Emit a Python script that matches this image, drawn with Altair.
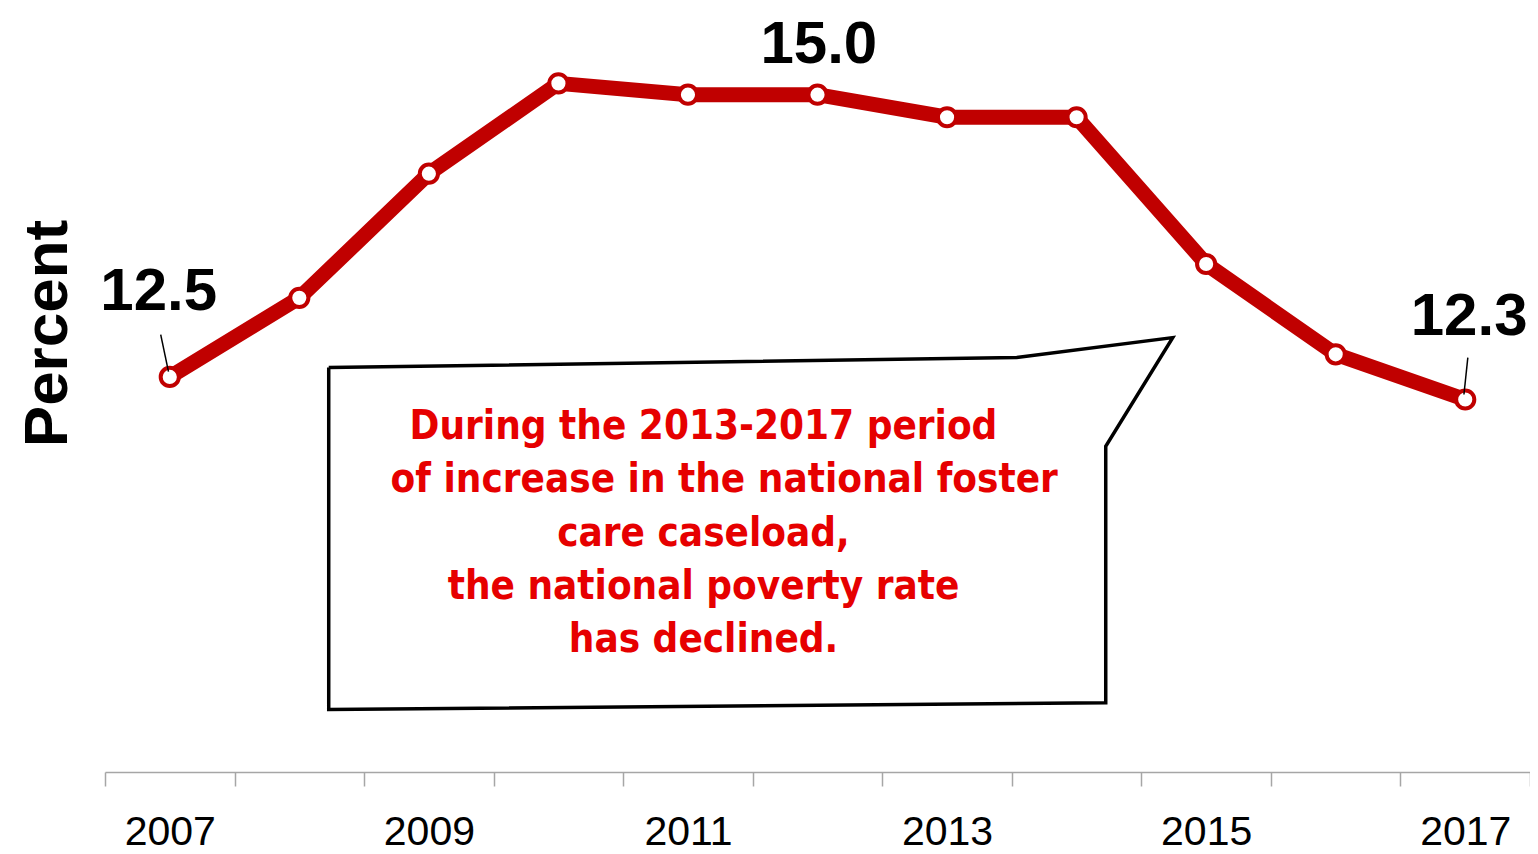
import altair as alt
import pandas as pd

# ---- data ----
years = [2007, 2008, 2009, 2010, 2011, 2012, 2013, 2014, 2015, 2016, 2017]
rates = [12.5, 13.2, 14.3, 15.1, 15.0, 15.0, 14.8, 14.8, 13.5, 12.7, 12.3]

label_text = ["12.5", "15.0", "12.3"]
label_year = [2006.915, 2012.01, 2017.03]
label_val = [13.093, 15.28, 12.871]

leader_id = [0, 0, 1, 1]
leader_year = [2006.93, 2006.99, 2017.02, 2016.99]
leader_val = [12.874, 12.547, 12.671, 12.344]

box_year = [2008.227, 2013.538, 2014.742, 2014.225, 2014.225, 2008.227, 2008.227]
box_val = [12.583, 12.671, 12.848, 11.885, 9.614, 9.553, 12.583]

note_lines = [
    "During the 2013-2017 period",
    "of increase in the national foster",
    "care caseload,",
    "the national poverty rate",
    "has declined.",
]
note_year = [2011.12, 2011.28, 2011.12, 2011.12, 2011.12]
note_val = [12.053, 11.585, 11.108, 10.639, 10.171]

tick_values = [y - 0.5 for y in years] + [years[-1] + 0.5]

NUM_FONT = "Liberation Sans"
NOTE_FONT = "DejaVu Sans Condensed, sans-serif"

df = pd.DataFrame({"year": years, "rate": rates})
labels = pd.DataFrame({"t": label_text, "year": label_year, "rate": label_val})
leaders = pd.DataFrame({"id": leader_id, "year": leader_year, "rate": leader_val})
box = pd.DataFrame({"o": list(range(len(box_year))), "year": box_year, "rate": box_val})
notes = pd.DataFrame({"t": note_lines, "year": note_year, "rate": note_val})

xs = alt.Scale(domain=[2006.5, 2017.5], nice=False, zero=False)
ys = alt.Scale(domain=[9, 15.75], nice=False, zero=False)

x_axis = alt.Axis(
    values=tick_values,
    labelExpr="((datum.value + 0.5) % 2 == 1 && datum.value < 2017) ? toString(datum.value + 0.5) : ''",
    labelOffset=64.8,
    labelFlush=False,
    labelOverlap=False,
    labelFont=NUM_FONT,
    labelFontSize=41,
    labelColor="#000000",
    labelPadding=26,
    domainColor="#a6a6a6",
    domainWidth=1.5,
    tickColor="#a6a6a6",
    tickWidth=1.5,
    tickSize=14,
    grid=False,
    title=None,
)
y_axis = alt.Axis(
    labels=False,
    ticks=False,
    domain=False,
    grid=False,
    title="Percent",
    titleFont=NUM_FONT,
    titleFontSize=62,
    titleFontWeight="bold",
    titleColor="#000000",
    titleAngle=270,
    titleAlign="center",
    titleBaseline="alphabetic",
    titleX=-39,
    titleY=323,
)

base = alt.Chart(df)
line = base.mark_line(color="#c00000", strokeWidth=15).encode(
    x=alt.X("year:Q", scale=xs, axis=x_axis),
    y=alt.Y("rate:Q", scale=ys, axis=y_axis),
)
pts = base.mark_point(
    shape="circle", filled=True, fill="white", stroke="#c00000",
    strokeWidth=4, size=330, opacity=1
).encode(x=alt.X("year:Q", scale=xs), y=alt.Y("rate:Q", scale=ys))

lead = alt.Chart(leaders).mark_line(color="black", strokeWidth=1.5).encode(
    x=alt.X("year:Q", scale=xs), y=alt.Y("rate:Q", scale=ys), detail="id:N"
)

lab = alt.Chart(labels).mark_text(
    font=NUM_FONT, fontSize=60, fontWeight="bold", color="black",
    align="center", baseline="alphabetic"
).encode(x=alt.X("year:Q", scale=xs), y=alt.Y("rate:Q", scale=ys), text="t:N")

box_line = alt.Chart(box).mark_line(color="black", strokeWidth=3.5, strokeJoin="miter").encode(
    x=alt.X("year:Q", scale=xs), y=alt.Y("rate:Q", scale=ys), order="o:Q"
)

note = alt.Chart(notes).mark_text(
    font=NOTE_FONT, fontSize=40, fontWeight="bold", color="#e60000",
    align="center", baseline="middle"
).encode(x=alt.X("year:Q", scale=xs), y=alt.Y("rate:Q", scale=ys), text="t:N")

chart = alt.layer(line, pts, lead, lab, box_line, note).properties(
    width=1425, height=762,
    autosize=alt.AutoSizeParams(type="none"),
    padding={"left": 97, "top": 2, "right": 0, "bottom": 82},
).configure_view(stroke=None)

chart.save("out.html", embed_options={"renderer": "svg", "actions": False})
